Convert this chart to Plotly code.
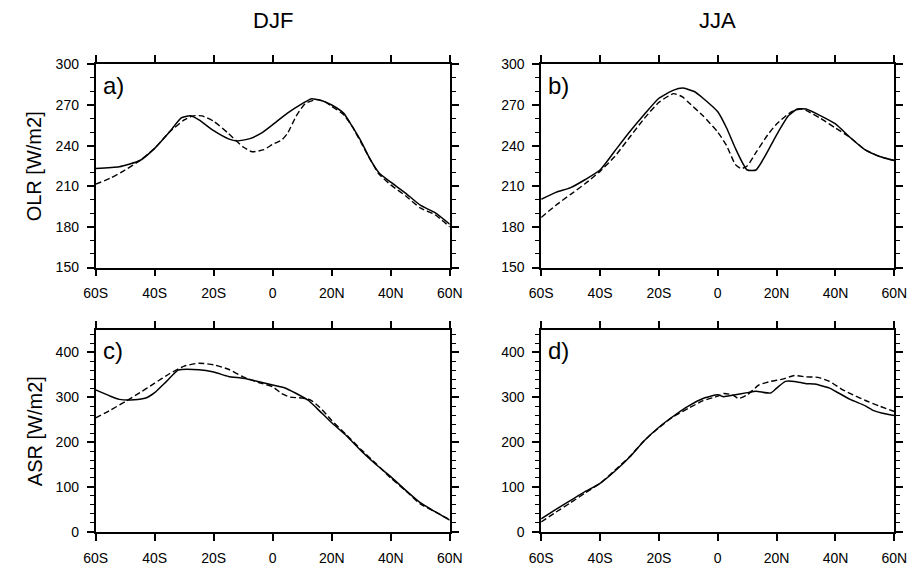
import plotly.graph_objects as go

# ---------------- data ----------------
season_titles = ["DJF", "JJA"]
panel_labels = ["a)", "b)", "c)", "d)"]
x_tickvals = [-60, -40, -20, 0, 20, 40, 60]
x_ticktext = ["60S", "40S", "20S", "0", "20N", "40N", "60N"]

# a) OLR DJF
a_sol_lat = [-60, -52, -45, -40, -35, -31, -28, -25, -20, -15, -12, -8, -4, 0, 5, 10, 13, 17, 20, 24, 27, 30, 33, 36, 40, 45, 50, 55, 60]
a_sol_val = [223.2, 224.4, 229, 238, 250, 260.5, 262, 259, 251, 245, 243.5, 245, 249, 255.5, 264, 271, 274.5, 273, 270, 264, 254, 243, 230, 220, 213, 205, 196, 190.5, 182]
a_dsh_lat = [-60, -55, -50, -45, -40, -35, -30, -27, -24, -20, -15, -10, -7, -3, 0, 3, 5, 8, 11, 15, 18, 20, 24, 27, 30, 33, 36, 40, 45, 50, 55, 60]
a_dsh_val = [211.5, 216, 222, 229, 238, 250, 259, 262, 262, 258, 249, 239, 235.5, 237, 241, 244, 249, 262, 271, 274, 272, 269, 263, 254, 242, 230, 219, 211, 203, 194, 189, 180]

# b) OLR JJA
b_sol_lat = [-60, -55, -50, -45, -40, -35, -30, -25, -20, -15, -12, -8, -5, 0, 3, 6, 9, 10, 13, 16, 20, 24, 27, 30, 35, 40, 45, 50, 55, 60]
b_sol_val = [200.4, 205.5, 209, 215, 222, 236, 250, 263, 275, 281, 282.5, 280, 275, 265, 253, 238, 225, 222, 222, 232, 248, 262, 267, 267, 262, 256, 246, 237, 232, 229]
b_dsh_lat = [-60, -55, -50, -45, -40, -35, -30, -25, -20, -15, -12, -10, -5, 0, 3, 6, 8, 10, 13, 17, 20, 25, 28, 30, 35, 40, 45, 50, 55, 60]
b_dsh_val = [187, 196, 204, 212, 221, 232, 246, 260, 272, 278.4, 276, 272, 262, 250, 240, 226, 223, 225, 235, 248, 256, 265, 267, 266, 260, 253, 246, 237, 232, 229]

# c) ASR DJF
c_sol_lat = [-60, -55, -52, -47, -43, -40, -36, -32, -25, -20, -15, -10, -5, 0, 4, 8, 12, 15, 20, 25, 30, 35, 40, 45, 50, 55, 60]
c_sol_val = [316, 302, 295, 294, 298, 310, 335, 360, 361, 356, 346, 342, 335, 327, 321, 308, 293, 275, 243, 214, 180, 150, 123, 93, 65, 45, 26]
c_dsh_lat = [-60, -55, -50, -45, -40, -35, -30, -25, -20, -15, -10, -5, 0, 3, 6, 10, 13, 16, 20, 25, 30, 35, 40, 45, 50, 55, 60]
c_dsh_val = [254, 271, 290, 310, 331, 352, 369, 375.5, 372, 362, 345, 333, 323, 308, 300, 298, 293, 277, 248, 216, 183, 152, 120, 92, 62, 45, 27]

# d) ASR JJA
d_sol_lat = [-60, -55, -50, -45, -40, -35, -30, -25, -20, -15, -10, -5, 0, 2, 5, 10, 13, 18, 20, 23, 26, 30, 33, 38, 40, 45, 50, 53, 56, 60]
d_sol_val = [29, 50, 70, 90, 108, 135, 166, 203, 233, 258, 280, 297, 305, 301, 304, 310, 313, 309, 320, 335, 335, 330, 329, 320, 313, 295, 281, 270, 264, 259]
d_dsh_lat = [-60, -55, -50, -45, -40, -35, -30, -25, -20, -15, -10, -5, 0, 2, 5, 7, 10, 14, 18, 22, 26, 30, 34, 38, 42, 46, 50, 55, 60]
d_dsh_val = [22, 44, 65, 87, 108, 137, 167, 203, 232, 257, 275, 292, 302, 308, 305, 297, 305, 327, 335, 340, 348, 345, 344, 335, 318, 305, 293, 280, 268]

olr_ticks = [150, 180, 210, 240, 270, 300]
asr_ticks = [0, 100, 200, 300, 400]
y_titles = ["OLR [W/m2]", "ASR [W/m2]"]

# ---------------- figure ----------------
W, H = 919, 571
fig = go.Figure()

panels = [
    (a_sol_lat, a_sol_val, a_dsh_lat, a_dsh_val),
    (b_sol_lat, b_sol_val, b_dsh_lat, b_dsh_val),
    (c_sol_lat, c_sol_val, c_dsh_lat, c_dsh_val),
    (d_sol_lat, d_sol_val, d_dsh_lat, d_dsh_val),
]

for i, (sl, sv, dl, dv) in enumerate(panels):
    sfx = "" if i == 0 else str(i + 1)
    fig.add_trace(go.Scatter(x=sl, y=sv, mode="lines", xaxis="x" + sfx, yaxis="y" + sfx,
                             line=dict(color="black", width=1.5, shape="spline", smoothing=0.5),
                             showlegend=False))
    fig.add_trace(go.Scatter(x=dl, y=dv, mode="lines", xaxis="x" + sfx, yaxis="y" + sfx,
                             line=dict(color="black", width=1.4, dash="6px,3px", shape="spline", smoothing=0.5),
                             showlegend=False))

# pixel geometry
xdoms = [(86 / W, 450 / W), (544 / W, 907 / W)]
ydoms = [(1 - 267 / H, 1 - 58 / H), (1 - 539 / H, 1 - 331 / H)]

FONT = "Liberation Sans, Arial, sans-serif"
tickfont = dict(family=FONT, size=14, color="black")

layout = dict(width=W, height=H, margin=dict(l=0, r=0, t=0, b=0),
              plot_bgcolor="white", paper_bgcolor="white", showlegend=False)

for i in range(4):
    row, col = i // 2, i % 2
    sfx = "" if i == 0 else str(i + 1)
    xa = dict(domain=list(xdoms[col]), anchor="y" + sfx, range=[-60, 60],
              tickvals=x_tickvals, ticktext=x_ticktext, ticks="outside", ticklen=7,
              tickwidth=1.5, tickcolor="black", showline=True, linecolor="black", linewidth=1.8,
              mirror="allticks", showgrid=False, zeroline=False, tickfont=tickfont,
              ticklabelstandoff=5)
    if row == 0:
        ya = dict(range=[150, 300], tickvals=olr_ticks,
                  minor=dict(dtick=10, tick0=150, ticks="outside", ticklen=4, tickwidth=1, tickcolor="black", showgrid=False))
    else:
        ya = dict(range=[0, 450], tickvals=asr_ticks,
                  minor=dict(dtick=20, tick0=0, ticks="outside", ticklen=4, tickwidth=1, tickcolor="black", showgrid=False))
    ya.update(domain=list(ydoms[row]), anchor="x" + sfx, ticks="outside", ticklen=7,
              tickwidth=1.5, tickcolor="black", showline=True, linecolor="black", linewidth=1.8,
              mirror="allticks", showgrid=False, zeroline=False, tickfont=tickfont,
              ticklabelstandoff=5)
    layout["xaxis" + sfx] = xa
    layout["yaxis" + sfx] = ya

fig.update_layout(**layout)

annots = []
# season titles
for col, t in enumerate(season_titles):
    cx = (xdoms[col][0] + xdoms[col][1]) / 2
    annots.append(dict(text=t, x=cx, y=1 - 13 / H, xref="paper", yref="paper",
                       xanchor="center", yanchor="middle", showarrow=False,
                       font=dict(family=FONT, size=22, color="black")))
# y titles
for row, t in enumerate(y_titles):
    cy = (ydoms[row][0] + ydoms[row][1]) / 2
    annots.append(dict(text=t, x=23 / W, y=cy, xref="paper", yref="paper", textangle=-90,
                       xanchor="center", yanchor="middle", showarrow=False,
                       font=dict(family=FONT, size=20, color="black")))
# panel labels
for i, t in enumerate(panel_labels):
    sfx = "" if i == 0 else str(i + 1)
    annots.append(dict(text=t, x=0.015, y=0.895, xref="x" + sfx + " domain", yref="y" + sfx + " domain",
                       xanchor="left", yanchor="middle", showarrow=False,
                       font=dict(family=FONT, size=24, color="black")))
fig.update_layout(annotations=annots)

fig.write_html("out.html")
